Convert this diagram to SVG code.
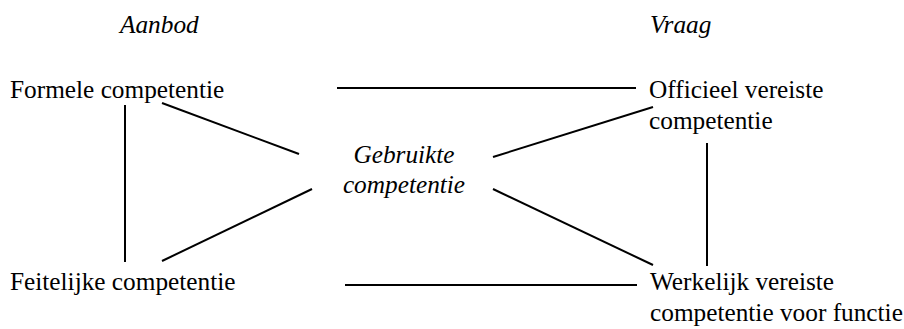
<svg xmlns="http://www.w3.org/2000/svg" width="904" height="329" viewBox="0 0 904 329">
  <style>
    text { font-family: "Liberation Serif", "Times New Roman", serif; font-size: 25.3px; fill: #000; }
    .it { font-style: italic; }
    .mid { text-anchor: middle; }
    #connectors line { stroke: #000; stroke-width: 2; }
  </style>
  <rect width="904" height="329" fill="#fff"/>

  <!-- column headings -->
  <g id="head-aanbod"><text class="it" x="120" y="33">Aanbod</text></g>
  <g id="head-vraag"><text class="it" x="650" y="33">Vraag</text></g>

  <g id="connectors">
    <line x1="337" y1="88" x2="636" y2="88"/>
    <line x1="345" y1="285" x2="637" y2="285"/>
    <line x1="125" y1="105" x2="125" y2="262"/>
    <line x1="707" y1="143" x2="707" y2="266"/>
    <line x1="162" y1="103" x2="299" y2="154"/>
    <line x1="162" y1="261" x2="312" y2="189"/>
    <line x1="493" y1="157" x2="653" y2="107"/>
    <line x1="493" y1="189" x2="653" y2="265"/>
  </g>

  <g id="formele"><text x="10" y="98">Formele competentie</text></g>
  <g id="feitelijke"><text x="10" y="290">Feitelijke competentie</text></g>
  <g id="gebruikte">
    <text class="it mid" x="404" y="163">Gebruikte</text>
    <text class="it mid" x="404" y="193">competentie</text>
  </g>
  <g id="officieel">
    <text x="649" y="98">Officieel vereiste</text>
    <text x="649" y="129">competentie</text>
  </g>
  <g id="werkelijk">
    <text x="650" y="290">Werkelijk vereiste</text>
    <text x="650" y="321">competentie voor functie</text>
  </g>
</svg>
